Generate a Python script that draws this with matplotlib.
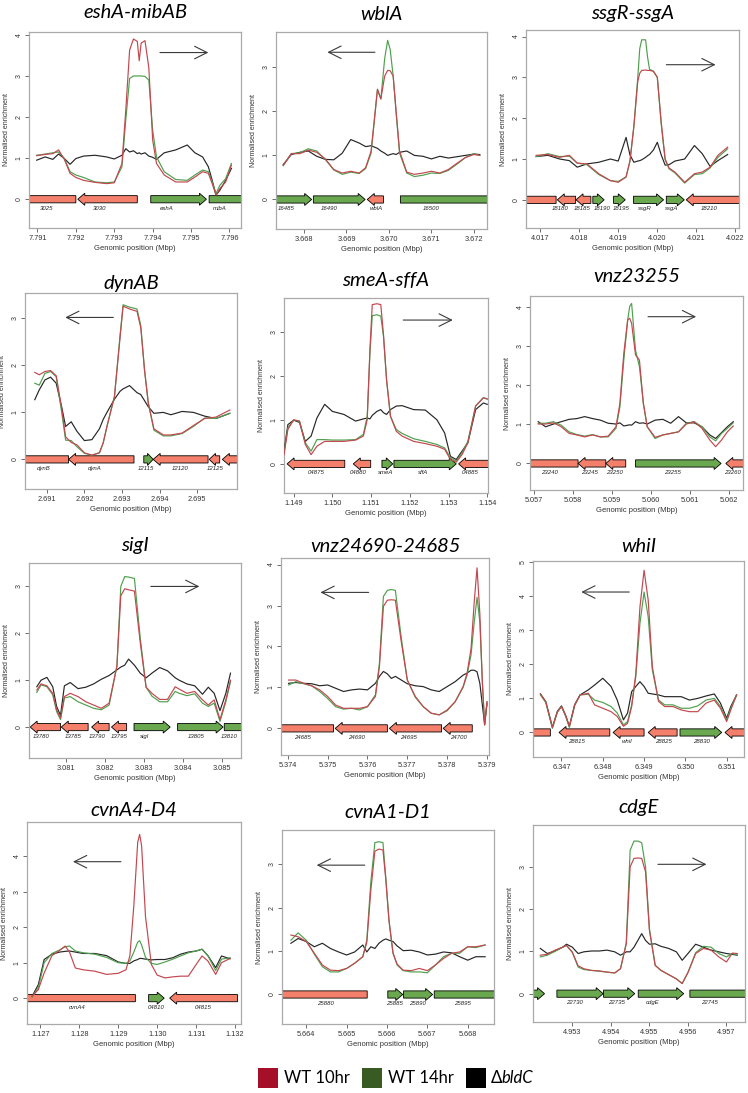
import numpy as np
import matplotlib
matplotlib.use("Agg")
import matplotlib.pyplot as plt
from matplotlib.patches import Polygon, Rectangle

plt.rcParams['font.family'] = ['Liberation Sans', 'DejaVu Sans']

# ---------------- colours ----------------
C_WT10 = '#C2474F'
C_WT14 = '#4E9F4E'
C_BLDC = '#262626'
C_FWD = '#6AA84F'
C_REV = '#F4806C'

# ---------------- data (positions in kb offset from base, values = normalised enrichment) ----------------
# Panel 1 : eshA-mibAB
P1_BASE = 7.791
P1_POS = [-0.02, 0.2, 0.4, 0.55, 0.7, 0.85, 1.0, 1.2, 1.5, 1.8, 2.0, 2.2, 2.3, 2.4, 2.5, 2.6, 2.65, 2.7, 2.8, 2.9, 3.0, 3.1, 3.3, 3.6, 3.9, 4.1, 4.3, 4.45, 4.55, 4.65, 4.75, 4.9, 5.05]
P1_WT10 = [1.06, 1.09, 1.11, 1.2, 0.97, 0.63, 0.53, 0.46, 0.41, 0.38, 0.40, 0.87, 2.17, 3.63, 3.9, 3.84, 3.37, 3.8, 3.86, 3.2, 1.44, 0.87, 0.59, 0.42, 0.42, 0.54, 0.67, 0.63, 0.38, 0.10, 0.26, 0.42, 0.83]
P1_WT14 = [1.07, 1.1, 1.13, 1.15, 0.99, 0.67, 0.59, 0.53, 0.42, 0.40, 0.42, 0.79, 1.93, 2.94, 3.0, 3.0, 3.0, 3.0, 2.99, 2.9, 1.68, 1.03, 0.67, 0.48, 0.46, 0.59, 0.71, 0.67, 0.42, 0.14, 0.34, 0.5, 0.87]
P1_BLDC = [0.95, 1.03, 0.97, 1.1, 0.99, 0.85, 0.99, 1.05, 1.07, 1.03, 0.98, 1.07, 1.23, 1.15, 1.18, 1.11, 1.13, 1.1, 1.13, 1.05, 1.02, 0.97, 1.13, 1.2, 1.32, 1.13, 1.03, 0.79, 0.46, 0.10, 0.22, 0.46, 0.75]
P1_GENES = [(-0.8, 1.0, -1, '3025', 0.23), (1.05, 2.6, -1, '3030', 1.63), (2.95, 4.4, 1, 'eshA', 3.37), (4.47, 5.8, 1, 'mibA', 4.74)]
P1_DIR = (3.19, 4.45, 3.57)
P1_XLIM = (-0.22, 5.3)
P1_YLIM = (-0.7, 4.07)
P1_XTICKS = [0, 1, 2, 3, 4, 5]

# Panel 2 : wblA
P2_BASE = 3.668
P2_POS = [-0.49, -0.3, -0.1, 0.1, 0.3, 0.5, 0.7, 0.9, 1.1, 1.3, 1.45, 1.58, 1.73, 1.81, 1.9, 1.97, 2.03, 2.1, 2.17, 2.25, 2.42, 2.6, 2.8, 3.0, 3.2, 3.4, 3.6, 3.8, 4.0, 4.14]
P2_WT10 = [0.77, 1.04, 1.04, 1.12, 1.07, 0.92, 0.68, 0.6, 0.64, 0.6, 0.72, 1.1, 2.5, 2.28, 2.8, 2.93, 2.92, 2.8, 2.0, 1.1, 0.62, 0.57, 0.6, 0.64, 0.6, 0.68, 0.82, 0.95, 1.02, 1.0]
P2_WT14 = [0.77, 1.04, 1.06, 1.15, 1.1, 0.91, 0.67, 0.57, 0.62, 0.59, 0.7, 1.05, 2.5, 2.28, 3.2, 3.61, 3.4, 2.8, 1.95, 1.05, 0.6, 0.52, 0.55, 0.6, 0.59, 0.66, 0.8, 0.95, 1.04, 1.0]
P2_BLDC = [0.79, 1.02, 1.07, 1.1, 0.98, 0.91, 0.9, 1.05, 1.36, 1.28, 1.2, 1.22, 1.16, 1.1, 1.05, 1.0, 1.02, 1.04, 1.02, 1.07, 1.1, 1.0, 0.98, 0.92, 0.98, 0.94, 0.97, 1.0, 1.03, 1.02]
P2_GENES = [(-0.9, 0.18, 1, '16485', -0.41), (0.22, 1.44, 1, '16490', 0.6), (1.49, 1.87, -1, 'wblA', 1.7), (2.27, 4.8, 1, '16500', 3.0)]
P2_DIR = (1.67, 0.55, 3.34)
P2_XLIM = (-0.66, 4.31)
P2_YLIM = (-0.67, 3.8)
P2_XTICKS = [0, 1, 2, 3, 4]

# Panel 3 : ssgR-ssgA
P3_BASE = 4.017
P3_POS = [-0.1, 0.2, 0.5, 0.75, 0.95, 1.2, 1.5, 1.8, 2.0, 2.2, 2.3, 2.4, 2.5, 2.55, 2.6, 2.7, 2.75, 2.8, 2.9, 3.0, 3.1, 3.2, 3.3, 3.45, 3.7, 3.95, 4.15, 4.35, 4.55, 4.8]
P3_WT10 = [1.09, 1.11, 1.04, 1.09, 0.9, 0.88, 0.64, 0.47, 0.43, 0.56, 0.95, 1.8, 2.9, 3.1, 3.17, 3.18, 3.17, 3.17, 3.15, 3.0, 1.9, 1.0, 0.78, 0.68, 0.43, 0.64, 0.68, 0.8, 1.09, 1.29]
P3_WT14 = [1.06, 1.13, 1.06, 1.07, 0.9, 0.86, 0.62, 0.47, 0.45, 0.56, 0.95, 1.8, 3.0, 3.7, 3.92, 3.92, 3.5, 3.2, 3.15, 3.0, 1.85, 0.98, 0.76, 0.66, 0.41, 0.62, 0.64, 0.78, 1.04, 1.25]
P3_BLDC = [1.06, 1.09, 1.0, 0.96, 0.8, 0.88, 0.92, 1.0, 0.95, 1.53, 1.1, 0.92, 0.95, 0.96, 0.98, 1.04, 1.08, 1.11, 1.22, 1.41, 1.1, 0.85, 0.86, 0.95, 1.0, 1.33, 1.13, 0.82, 0.96, 1.11]
P3_GENES = [(-0.8, 0.41, -1, '', 0), (0.44, 0.91, -1, '18180', 0.51), (0.92, 1.3, -1, '18185', 1.07), (1.35, 1.64, 1, '18190', 1.58), (1.88, 2.18, 1, '18195', 2.07), (2.39, 3.16, 1, 'ssgR', 2.67), (3.23, 3.69, 1, 'ssgA', 3.38), (3.74, 5.6, -1, '18210', 4.32)]
P3_DIR = (3.23, 4.49, 3.31)
P3_XLIM = (-0.36, 5.09)
P3_YLIM = (-0.69, 4.16)
P3_XTICKS = [0, 1, 2, 3, 4, 5]

# Panel 4 : dynAB
P4_BASE = 2.691
P4_POS = [-0.32, -0.2, -0.05, 0.1, 0.25, 0.4, 0.5, 0.65, 0.8, 1.0, 1.2, 1.4, 1.5, 1.6, 1.8, 1.95, 2.03, 2.2, 2.4, 2.5, 2.6, 2.7, 2.85, 3.1, 3.3, 3.6, 3.9, 4.2, 4.5, 4.87]
P4_WT10 = [1.85, 1.8, 1.87, 1.89, 1.78, 1.06, 0.48, 0.36, 0.31, 0.14, 0.09, 0.14, 0.35, 0.7, 1.34, 2.6, 3.26, 3.2, 3.15, 2.8, 1.9, 1.2, 0.65, 0.52, 0.52, 0.56, 0.72, 0.87, 0.9, 1.05]
P4_WT14 = [1.62, 1.58, 1.83, 1.87, 1.76, 0.98, 0.41, 0.4, 0.27, 0.13, 0.09, 0.14, 0.35, 0.7, 1.34, 2.65, 3.29, 3.24, 3.2, 2.85, 1.9, 1.2, 0.62, 0.5, 0.5, 0.55, 0.7, 0.88, 0.87, 0.98]
P4_BLDC = [1.27, 1.48, 1.69, 1.75, 1.62, 1.1, 0.7, 0.8, 0.6, 0.4, 0.42, 0.65, 0.85, 1.0, 1.28, 1.45, 1.5, 1.57, 1.42, 1.38, 1.25, 1.12, 0.98, 1.0, 0.95, 1.02, 1.0, 0.92, 0.87, 0.98]
P4_GENES = [(-0.9, 0.58, -1, 'dynB', -0.09), (0.58, 2.32, -1, 'dynA', 1.28), (2.58, 2.83, 1, '12115', 2.65), (2.83, 4.29, -1, '12120', 3.56), (4.32, 4.6, -1, '12125', 4.47), (4.67, 5.7, -1, '', 0)]
P4_DIR = (1.77, 0.49, 3.02)
P4_XLIM = (-0.58, 5.06)
P4_YLIM = (-0.63, 3.54)
P4_XTICKS = [0, 1, 2, 3, 4]

# Panel 5 : smeA-sffA
P5_BASE = 1.149
P5_POS = [-0.25, -0.15, 0.0, 0.15, 0.3, 0.45, 0.6, 0.8, 1.0, 1.3, 1.6, 1.8, 1.9, 1.97, 2.03, 2.15, 2.25, 2.32, 2.4, 2.5, 2.65, 2.8, 3.1, 3.4, 3.7, 3.9, 4.05, 4.2, 4.35, 4.5, 4.7, 4.9, 5.0]
P5_WT10 = [0.21, 0.78, 1.0, 0.97, 0.44, 0.21, 0.4, 0.51, 0.51, 0.51, 0.54, 0.63, 1.0, 2.6, 3.61, 3.63, 3.61, 2.93, 1.9, 1.08, 0.74, 0.63, 0.51, 0.46, 0.4, 0.33, 0.1, 0.04, 0.21, 0.48, 1.31, 1.5, 1.47]
P5_WT14 = [0.25, 0.82, 0.99, 0.97, 0.48, 0.29, 0.55, 0.55, 0.54, 0.54, 0.55, 0.67, 1.08, 2.5, 3.36, 3.38, 3.35, 2.89, 1.9, 1.08, 0.78, 0.69, 0.57, 0.51, 0.44, 0.36, 0.14, 0.06, 0.25, 0.51, 1.31, 1.5, 1.47]
P5_BLDC = [0.29, 0.89, 0.99, 0.94, 0.51, 0.63, 1.04, 1.35, 1.19, 1.12, 0.97, 1.02, 1.04, 1.02, 1.1, 1.19, 1.23, 1.16, 1.12, 1.23, 1.31, 1.32, 1.23, 1.22, 1.0, 0.7, 0.17, 0.1, 0.29, 0.48, 1.23, 1.38, 1.35]
P5_GENES = [(-0.17, 1.32, -1, '04875', 0.59), (1.54, 1.99, -1, '04880', 1.67), (2.28, 2.56, 1, 'smeA', 2.38), (2.59, 4.2, 1, 'sffA', 3.35), (4.26, 5.7, -1, '04885', 4.56)]
P5_DIR = (2.83, 4.11, 3.26)
P5_XLIM = (-0.25, 5.02)
P5_YLIM = (-0.66, 3.76)
P5_XTICKS = [0, 1, 2, 3, 4, 5]

# Panel 6 : vnz23255
P6_BASE = 5.057
P6_POS = [0.11, 0.3, 0.5, 0.7, 0.9, 1.1, 1.3, 1.5, 1.7, 1.9, 2.1, 2.2, 2.3, 2.4, 2.45, 2.5, 2.6, 2.7, 2.8, 2.9, 3.1, 3.3, 3.5, 3.7, 3.9, 4.1, 4.3, 4.5, 4.65, 4.8, 4.95, 5.1]
P6_WT10 = [1.01, 1.01, 1.04, 0.94, 0.77, 0.73, 0.68, 0.73, 0.68, 0.7, 0.94, 1.54, 2.82, 3.68, 3.72, 3.59, 2.78, 2.65, 1.54, 0.94, 0.67, 0.73, 0.77, 0.81, 1.01, 1.07, 0.9, 0.6, 0.43, 0.6, 0.81, 0.96]
P6_WT14 = [1.03, 1.03, 1.07, 0.98, 0.81, 0.74, 0.7, 0.74, 0.68, 0.68, 0.9, 1.45, 2.65, 3.68, 4.02, 4.1, 2.9, 2.48, 1.54, 0.94, 0.64, 0.73, 0.77, 0.81, 1.03, 1.07, 0.94, 0.68, 0.58, 0.77, 0.9, 1.04]
P6_BLDC = [1.07, 0.94, 1.01, 1.07, 1.13, 1.15, 1.2, 1.15, 1.11, 1.03, 1.01, 1.04, 0.96, 0.98, 0.99, 0.98, 1.07, 1.03, 1.04, 1.01, 1.11, 1.13, 1.03, 1.2, 1.04, 1.04, 0.94, 0.73, 0.64, 0.79, 0.94, 1.07]
P6_GENES = [(-0.6, 1.13, -1, '23240', 0.39), (1.13, 1.84, -1, '23245', 1.41), (1.84, 2.35, -1, '23250', 2.07), (2.6, 4.79, 1, '23255', 3.55), (4.91, 6.0, -1, '23260', 5.08)]
P6_DIR = (2.92, 4.15, 3.76)
P6_XLIM = (-0.1, 5.35)
P6_YLIM = (-0.68, 4.29)
P6_XTICKS = [0, 1, 2, 3, 4, 5]

# Panel 7 : sigI
P7_BASE = 3.080
P7_POS = [0.24, 0.35, 0.5, 0.65, 0.75, 0.85, 0.95, 1.1, 1.3, 1.5, 1.7, 1.9, 2.1, 2.3, 2.4, 2.5, 2.6, 2.75, 2.9, 3.05, 3.2, 3.4, 3.6, 3.8, 3.9, 4.1, 4.3, 4.5, 4.65, 4.8, 4.95, 5.1, 5.22]
P7_WT10 = [0.79, 0.92, 0.88, 0.72, 0.37, 0.19, 0.65, 0.72, 0.65, 0.54, 0.47, 0.4, 0.51, 1.3, 2.8, 2.95, 2.93, 2.9, 1.8, 0.85, 0.72, 0.59, 0.59, 0.86, 0.81, 0.72, 0.76, 0.58, 0.47, 0.58, 0.16, 0.58, 1.0]
P7_WT14 = [0.74, 0.9, 0.86, 0.69, 0.33, 0.16, 0.62, 0.65, 0.54, 0.47, 0.4, 0.37, 0.47, 1.3, 3.0, 3.21, 3.2, 3.17, 1.9, 0.85, 0.66, 0.54, 0.54, 0.76, 0.72, 0.67, 0.71, 0.51, 0.44, 0.51, 0.12, 0.54, 0.97]
P7_BLDC = [0.86, 1.0, 1.06, 0.86, 0.44, 0.25, 0.88, 0.95, 0.82, 0.85, 0.92, 1.02, 1.1, 1.22, 1.28, 1.32, 1.45, 1.32, 1.15, 1.05, 1.15, 1.27, 1.2, 1.05, 1.0, 0.92, 0.88, 0.7, 0.85, 0.72, 0.35, 0.72, 1.15]
P7_GENES = [(0.07, 0.85, -1, '13780', 0.36), (0.87, 1.56, -1, '13785', 1.17), (1.65, 2.1, -1, '13790', 1.79), (2.16, 2.55, -1, '13795', 2.36), (2.74, 3.67, 1, 'sigI', 3.02), (3.86, 5.03, 1, '13805', 4.35), (5.06, 6.2, 1, '13810', 5.2)]
P7_DIR = (3.17, 4.42, 3.0)
P7_XLIM = (0.04, 5.49)
P7_YLIM = (-0.66, 3.5)
P7_XTICKS = [1, 2, 3, 4, 5]

# Panel 8 : vnz24690-24685
P8_BASE = 5.374
P8_POS = [0.02, 0.2, 0.4, 0.6, 0.8, 1.0, 1.2, 1.4, 1.6, 1.8, 2.0, 2.2, 2.3, 2.4, 2.5, 2.6, 2.7, 2.85, 3.0, 3.2, 3.4, 3.6, 3.8, 4.0, 4.2, 4.4, 4.5, 4.6, 4.68, 4.75, 4.82, 4.88, 4.94, 5.0]
P8_WT10 = [1.18, 1.18, 1.1, 1.04, 0.94, 0.78, 0.57, 0.49, 0.49, 0.49, 0.53, 0.78, 1.51, 2.98, 3.13, 3.14, 3.13, 2.1, 1.18, 0.78, 0.53, 0.37, 0.33, 0.45, 0.65, 1.02, 1.35, 1.95, 3.1, 3.92, 2.8, 1.2, 0.08, 0.65]
P8_WT14 = [1.06, 1.14, 1.09, 1.04, 0.9, 0.73, 0.53, 0.47, 0.49, 0.45, 0.53, 0.82, 1.59, 3.22, 3.37, 3.39, 3.37, 2.2, 1.18, 0.76, 0.53, 0.37, 0.33, 0.43, 0.65, 1.0, 1.3, 1.8, 2.6, 3.2, 2.6, 1.2, 0.08, 0.65]
P8_BLDC = [1.1, 1.12, 1.1, 1.09, 1.04, 1.06, 0.98, 0.9, 0.94, 0.96, 0.94, 1.1, 1.27, 1.39, 1.33, 1.22, 1.27, 1.18, 1.09, 1.04, 1.02, 0.94, 0.9, 1.02, 1.14, 1.3, 1.35, 1.42, 1.42, 1.38, 1.1, 0.6, 0.1, 0.6]
P8_GENES = [(-0.6, 1.15, -1, '24685', 0.36), (1.19, 2.5, -1, '24690', 1.73), (2.55, 3.86, -1, '24695', 3.03), (3.9, 4.63, -1, '24700', 4.28)]
P8_DIR = (2.03, 0.82, 3.32)
P8_XLIM = (-0.17, 5.05)
P8_YLIM = (-0.65, 4.16)
P8_XTICKS = [0, 1, 2, 3, 4, 5]

# Panel 9 : whiI
P9_BASE = 6.346
P9_POS = [0.49, 0.62, 0.78, 0.9, 1.0, 1.1, 1.19, 1.32, 1.45, 1.65, 1.8, 2.0, 2.2, 2.35, 2.5, 2.6, 2.7, 2.8, 2.9, 3.0, 3.1, 3.2, 3.35, 3.5, 3.7, 3.9, 4.1, 4.3, 4.5, 4.7, 4.85, 5.0, 5.1, 5.24]
P9_WT10 = [1.13, 0.9, 0.15, 0.6, 0.76, 0.5, 0.18, 0.8, 1.1, 1.15, 0.81, 0.71, 0.61, 0.47, 0.18, 0.27, 0.76, 1.73, 3.68, 4.76, 3.88, 1.93, 0.91, 0.76, 0.76, 0.66, 0.61, 0.61, 0.86, 0.95, 0.71, 0.32, 0.66, 1.1]
P9_WT14 = [1.1, 0.88, 0.12, 0.6, 0.76, 0.48, 0.15, 0.8, 1.1, 1.12, 0.95, 0.88, 0.76, 0.57, 0.22, 0.32, 0.81, 1.64, 3.2, 4.12, 3.39, 1.83, 0.95, 0.81, 0.81, 0.71, 0.71, 0.78, 0.95, 1.0, 0.76, 0.37, 0.71, 1.1]
P9_BLDC = [1.13, 0.9, 0.15, 0.62, 0.78, 0.5, 0.18, 0.82, 1.1, 1.25, 1.39, 1.59, 1.35, 0.95, 0.37, 0.57, 1.2, 1.35, 1.49, 1.35, 1.15, 1.13, 1.1, 1.05, 1.05, 1.05, 0.95, 1.0, 1.07, 1.13, 0.86, 0.42, 0.76, 1.1]
P9_GENES = [(-0.5, 0.73, -1, '', 0), (0.94, 2.17, -1, '28815', 1.36), (2.25, 3.0, -1, 'whiI', 2.59), (3.1, 3.8, -1, '28825', 3.46), (3.87, 4.88, 1, '28830', 4.39), (4.96, 6.0, -1, '', 0)]
P9_DIR = (2.64, 1.48, 4.12)
P9_XLIM = (0.31, 5.42)
P9_YLIM = (-0.72, 5.03)
P9_XTICKS = [1, 2, 3, 4, 5]

# Panel 10 : cvnA4-D4
P10_BASE = 1.127
P10_POS = [-0.21, -0.05, 0.1, 0.3, 0.5, 0.64, 0.75, 0.9, 1.1, 1.4, 1.7, 2.0, 2.2, 2.3, 2.4, 2.5, 2.55, 2.6, 2.7, 2.85, 3.0, 3.2, 3.4, 3.6, 3.8, 4.0, 4.15, 4.3, 4.5, 4.65, 4.87]
P10_WT10 = [0.05, 0.24, 0.71, 1.2, 1.35, 1.47, 1.3, 0.85, 0.8, 0.76, 0.67, 0.7, 0.8, 1.2, 2.6, 4.4, 4.62, 4.3, 2.3, 0.95, 0.65, 0.57, 0.6, 0.62, 0.62, 0.95, 1.19, 1.05, 0.67, 1.0, 1.12]
P10_WT14 = [0.03, 0.29, 1.0, 1.26, 1.36, 1.45, 1.47, 1.33, 1.28, 1.24, 1.15, 1.0, 0.98, 1.05, 1.3, 1.58, 1.62, 1.5, 1.15, 0.98, 0.95, 1.02, 1.1, 1.19, 1.28, 1.33, 1.38, 1.2, 0.78, 1.1, 1.14]
P10_BLDC = [0.05, 0.38, 1.09, 1.24, 1.3, 1.32, 1.33, 1.3, 1.26, 1.26, 1.2, 1.02, 0.98, 0.98, 1.05, 1.09, 1.12, 1.12, 1.1, 1.08, 1.09, 1.09, 1.14, 1.24, 1.3, 1.33, 1.38, 1.2, 0.86, 1.19, 1.11]
P10_GENES = [(-0.9, 2.44, -1, 'cvnA4', 0.94), (2.78, 3.18, 1, '04810', 2.97), (3.32, 5.06, -1, '04815', 4.17)]
P10_DIR = (2.07, 0.84, 3.85)
P10_XLIM = (-0.34, 5.15)
P10_YLIM = (-0.73, 4.97)
P10_XTICKS = [0, 1, 2, 3, 4, 5]

# Panel 11 : cvnA1-D1
P11_BASE = 5.664
P11_POS = [-0.38, -0.2, 0.0, 0.2, 0.4, 0.6, 0.8, 1.0, 1.2, 1.4, 1.5, 1.6, 1.7, 1.8, 1.9, 1.97, 2.05, 2.15, 2.25, 2.4, 2.6, 2.8, 3.0, 3.2, 3.4, 3.6, 3.8, 4.0, 4.2, 4.43]
P11_WT10 = [1.37, 1.33, 1.22, 0.95, 0.68, 0.56, 0.55, 0.6, 0.72, 0.87, 1.2, 2.4, 3.3, 3.35, 3.33, 2.65, 1.7, 0.95, 0.7, 0.56, 0.55, 0.6, 0.55, 0.68, 0.83, 0.95, 0.98, 1.1, 1.1, 1.14]
P11_WT14 = [1.25, 1.42, 1.25, 0.93, 0.64, 0.52, 0.52, 0.6, 0.72, 0.87, 1.25, 2.6, 3.5, 3.52, 3.5, 2.7, 1.7, 0.95, 0.68, 0.55, 0.52, 0.52, 0.5, 0.68, 0.87, 0.95, 0.95, 1.1, 1.08, 1.14]
P11_BLDC = [1.18, 1.29, 1.22, 1.1, 1.18, 1.06, 0.98, 0.91, 0.98, 1.14, 0.98, 1.1, 1.06, 1.18, 1.25, 1.28, 1.25, 1.22, 1.12, 1.01, 1.02, 0.98, 0.91, 0.93, 0.98, 0.96, 0.87, 0.79, 0.87, 0.87]
P11_GENES = [(-0.9, 1.51, -1, '25880', 0.47), (2.02, 2.39, 1, '25885', 2.19), (2.41, 3.13, 1, '25890', 2.76), (3.17, 5.2, 1, '25895', 3.87)]
P11_DIR = (1.45, 0.26, 2.98)
P11_XLIM = (-0.6, 4.65)
P11_YLIM = (-0.68, 3.79)
P11_XTICKS = [0, 1, 2, 3, 4]

# Panel 12 : cdgE
P12_BASE = 4.952
P12_POS = [0.17, 0.35, 0.55, 0.75, 0.85, 1.0, 1.15, 1.3, 1.5, 1.7, 1.9, 2.1, 2.25, 2.4, 2.5, 2.6, 2.7, 2.8, 2.9, 3.0, 3.15, 3.3, 3.5, 3.7, 3.85, 4.0, 4.2, 4.4, 4.6, 4.8, 5.0, 5.15, 5.28]
P12_WT10 = [0.91, 0.93, 1.03, 1.1, 1.14, 0.98, 0.66, 0.59, 0.55, 0.54, 0.51, 0.49, 0.59, 1.18, 3.0, 3.2, 3.21, 3.2, 2.88, 1.5, 0.67, 0.55, 0.45, 0.35, 0.24, 0.5, 0.95, 1.07, 1.03, 0.87, 0.75, 0.96, 0.95]
P12_WT14 = [0.87, 0.91, 1.0, 1.1, 1.14, 0.98, 0.63, 0.57, 0.55, 0.53, 0.51, 0.49, 0.59, 1.2, 3.39, 3.61, 3.61, 3.57, 3.0, 1.54, 0.67, 0.55, 0.45, 0.35, 0.24, 0.5, 0.97, 1.12, 1.1, 0.95, 0.87, 0.95, 0.91]
P12_BLDC = [1.07, 0.95, 1.01, 1.1, 1.17, 1.1, 0.95, 0.99, 1.01, 1.01, 1.03, 0.99, 0.91, 0.99, 0.99, 1.1, 1.26, 1.42, 1.26, 1.17, 1.18, 1.12, 1.07, 0.99, 0.79, 0.95, 1.17, 1.1, 1.03, 0.99, 0.95, 0.93, 0.91]
P12_GENES = [(-0.5, 0.28, 1, '', 0), (0.6, 1.8, 1, '22730', 1.06), (1.81, 2.62, 1, '22735', 2.14), (2.71, 3.89, 1, 'cdgE', 3.08), (4.05, 6.0, 1, '22745', 4.57)]
P12_DIR = (3.22, 4.48, 3.06)
P12_XLIM = (-0.02, 5.48)
P12_YLIM = (-0.67, 3.99)
P12_XTICKS = [1, 2, 3, 4, 5]

TITLES = ['eshA-mibAB', 'wblA', 'ssgR-ssgA', 'dynAB', 'smeA-sffA', 'vnz23255',
          'sigI', 'vnz24690-24685', 'whiI', 'cvnA4-D4', 'cvnA1-D1', 'cdgE']
LEGEND_LABELS = ['WT 10hr', 'WT 14hr', 'bldC']

# ---------------- layout (pixels: left, right, top, bottom) ----------------
BOXES = [(29, 241, 32, 228), (276, 487, 32, 229), (526, 739, 30, 228),
         (25, 237, 293, 489), (284, 488, 298, 493), (530, 743, 296, 490),
         (29, 241, 563, 758), (281, 489, 558, 755), (533, 744, 561, 757),
         (27, 241, 822, 1024), (282, 494, 830, 1024), (533, 745, 825, 1022)]
TITLE_Y = [13, 14, 14, 283, 280, 277, 546, 546, 546, 810, 813, 808]

PANELS = [
    (P1_BASE, P1_POS, P1_WT10, P1_WT14, P1_BLDC, P1_GENES, P1_DIR, P1_XLIM, P1_YLIM, P1_XTICKS),
    (P2_BASE, P2_POS, P2_WT10, P2_WT14, P2_BLDC, P2_GENES, P2_DIR, P2_XLIM, P2_YLIM, P2_XTICKS),
    (P3_BASE, P3_POS, P3_WT10, P3_WT14, P3_BLDC, P3_GENES, P3_DIR, P3_XLIM, P3_YLIM, P3_XTICKS),
    (P4_BASE, P4_POS, P4_WT10, P4_WT14, P4_BLDC, P4_GENES, P4_DIR, P4_XLIM, P4_YLIM, P4_XTICKS),
    (P5_BASE, P5_POS, P5_WT10, P5_WT14, P5_BLDC, P5_GENES, P5_DIR, P5_XLIM, P5_YLIM, P5_XTICKS),
    (P6_BASE, P6_POS, P6_WT10, P6_WT14, P6_BLDC, P6_GENES, P6_DIR, P6_XLIM, P6_YLIM, P6_XTICKS),
    (P7_BASE, P7_POS, P7_WT10, P7_WT14, P7_BLDC, P7_GENES, P7_DIR, P7_XLIM, P7_YLIM, P7_XTICKS),
    (P8_BASE, P8_POS, P8_WT10, P8_WT14, P8_BLDC, P8_GENES, P8_DIR, P8_XLIM, P8_YLIM, P8_XTICKS),
    (P9_BASE, P9_POS, P9_WT10, P9_WT14, P9_BLDC, P9_GENES, P9_DIR, P9_XLIM, P9_YLIM, P9_XTICKS),
    (P10_BASE, P10_POS, P10_WT10, P10_WT14, P10_BLDC, P10_GENES, P10_DIR, P10_XLIM, P10_YLIM, P10_XTICKS),
    (P11_BASE, P11_POS, P11_WT10, P11_WT14, P11_BLDC, P11_GENES, P11_DIR, P11_XLIM, P11_YLIM, P11_XTICKS),
    (P12_BASE, P12_POS, P12_WT10, P12_WT14, P12_BLDC, P12_GENES, P12_DIR, P12_XLIM, P12_YLIM, P12_XTICKS),
]

W, H = 748, 1093
fig = plt.figure(figsize=(W / 100, H / 100), dpi=100)
fig.patch.set_facecolor('white')


def draw_panel(box, title, ty, base, pos, wt10, wt14, bldc, genes, direc, xlim, ylim, xticks):
    l, r, t, b = box
    ax = fig.add_axes([l / W, 1 - b / H, (r - l) / W, (b - t) / H])
    x = base + np.asarray(pos) / 1000.0
    ax.plot(x, bldc, color=C_BLDC, lw=0.85, zorder=3)
    ax.plot(x, wt14, color=C_WT14, lw=0.85, zorder=3.5)
    ax.plot(x, wt10, color=C_WT10, lw=0.85, zorder=4)
    x0, x1 = base + xlim[0] / 1000, base + xlim[1] / 1000
    ax.set_xlim(x0, x1)
    ax.set_ylim(*ylim)
    mx = (x1 - x0) / (r - l)
    my = (ylim[1] - ylim[0]) / (b - t)
    bh, hh, hl = 3.6 * my, 6.0 * my, 7.0 * mx
    for (g0, g1, strand, lab, lpos) in genes:
        a, c = base + g0 / 1000, base + g1 / 1000
        h = min(hl, (c - a) * 0.6)
        if strand > 0:
            pts = [(a, -bh), (c - h, -bh), (c - h, -hh), (c, 0), (c - h, hh), (c - h, bh), (a, bh)]
        else:
            pts = [(c, -bh), (a + h, -bh), (a + h, -hh), (a, 0), (a + h, hh), (a + h, bh), (c, bh)]
        ax.add_patch(Polygon(pts, closed=True, fc=C_FWD if strand > 0 else C_REV,
                             ec='black', lw=0.6, zorder=2))
        if lab:
            ax.text(base + lpos / 1000, -9.0 * my, lab, ha='center', va='center',
                    fontsize=4.3, style='italic', color='#222222', zorder=5)
    d0, d1, dy = direc
    ax.annotate('', xy=(base + d1 / 1000, dy), xytext=(base + d0 / 1000, dy),
                arrowprops=dict(arrowstyle='->,head_length=0.9,head_width=0.45',
                                color='#3a3a3a', lw=0.8, shrinkA=0, shrinkB=0,
                                mutation_scale=10))
    ax.set_xticks([base + v / 1000 for v in xticks])
    ax.set_xticklabels(['%.3f' % (base + v / 1000) for v in xticks])
    ax.set_yticks(np.arange(0, np.floor(ylim[1]) + 1))
    ax.tick_params(axis='both', direction='out', length=3, width=0.6, color='#555555',
                   labelsize=5, pad=1.5, labelcolor='#333333')
    ax.tick_params(axis='x', labelsize=5.3, pad=2)
    ax.tick_params(axis='y', labelrotation=90)
    for lbl in ax.get_yticklabels():
        lbl.set_va('center')
    for s in ax.spines.values():
        s.set_color('#AAAAAA')
        s.set_linewidth(0.9)
    ax.set_ylabel('Normalised enrichment', fontsize=5, labelpad=4, color='#333333')
    ax.set_xlabel('Genomic position (Mbp)', fontsize=5.5, labelpad=2.5, color='#333333')
    fig.text((l + r) / 2 / W, 1 - ty / H, title, ha='center', va='center',
             fontsize=14.5, style='italic', family=['Lato', 'DejaVu Sans'], color='black')


for i, p in enumerate(PANELS):
    base, pos, wt10, wt14, bldc, genes, direc, xlim, ylim, xticks = p
    draw_panel(BOXES[i], TITLES[i], TITLE_Y[i], base, pos, wt10, wt14, bldc,
               genes, direc, xlim, ylim, xticks)

# ---------------- legend ----------------
LEG_COLORS = ['#A50F28', '#375B23', '#000000']
LEG_X = [258, 362, 466]
LEG_Y = 1078
SQ = 20
for cx, col, lab in zip(LEG_X, LEG_COLORS, LEGEND_LABELS):
    fig.add_artist(Rectangle((cx / W, 1 - (LEG_Y + SQ / 2) / H), SQ / W, SQ / H,
                             transform=fig.transFigure, fc=col, ec='none'))
    if lab == 'bldC':
        fig.text((cx + SQ + 5) / W, 1 - LEG_Y / H, '\u0394', ha='left', va='center',
                 fontsize=12, family=['Lato', 'DejaVu Sans'])
        fig.text((cx + SQ + 16) / W, 1 - LEG_Y / H, lab, ha='left', va='center',
                 fontsize=12, style='italic', family=['Lato', 'DejaVu Sans'])
    else:
        fig.text((cx + SQ + 6) / W, 1 - LEG_Y / H, lab, ha='left', va='center',
                 fontsize=12, family=['Lato', 'DejaVu Sans'])

fig.savefig('out.png', dpi=100, facecolor='white')
